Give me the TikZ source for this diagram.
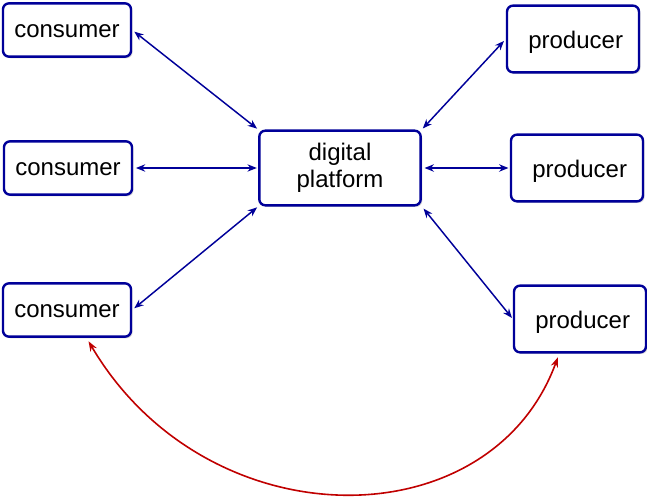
\documentclass[tikz,border=0pt]{standalone}
\usepackage{fontspec}
\setmainfont{Liberation Sans}
\usetikzlibrary{positioning, calc, arrows.meta, shadows}
\definecolor{Navy}{HTML}{000099}
\definecolor{Crimson}{HTML}{C00000}
\tikzset{
    sidebox/.style={rectangle, rounded corners=4.5pt, draw=Navy, line width=1.8pt, fill=white, align=center,
        font=\fontsize{18}{20}\selectfont, drop shadow={opacity=0.3, shadow xshift=1.2pt, shadow yshift=-1.2pt}},
    consumerbox/.style={sidebox, minimum width=96pt, minimum height=40pt, text depth=0pt, text height=11pt},
    producerbox/.style={sidebox, minimum width=99pt, minimum height=50pt, text depth=0pt, text height=14pt},
    platformbox/.style={sidebox, minimum width=121pt, minimum height=56pt},
    link/.style={{Stealth[length=7pt,width=5.5pt]}-{Stealth[length=7pt,width=5.5pt]}, line width=1.1pt, color=Navy, shorten <=2pt, shorten >=1pt},
    deal/.style={{Stealth[length=7.5pt,width=5.5pt]}-{Stealth[length=7.5pt,width=5.5pt]}, line width=1.2pt, color=Crimson, shorten <=3pt, shorten >=3pt},
}
\begin{document}
\begin{tikzpicture}[x=0.75pt, y=-0.75pt]
        \useasboundingbox (0,0) rectangle (647,498);
        \node[platformbox] (plat) at (340,168) {digital\\platform};
        \node[consumerbox] (c1) at (67,30) {consumer};
        \node[consumerbox] (c2) at (68,168) {consumer};
        \node[consumerbox] (c3) at (67,310) {consumer};
        \node[producerbox] (p1) at (573,39) {\hspace{4pt}producer};
        \node[producerbox] (p2) at (577,168) {\hspace{4pt}producer};
        \node[producerbox] (p3) at (580,319) {\hspace{4pt}producer};

        \draw[link] (c1.east) -- (plat.north west);
        \draw[link] (c2.east) -- (plat.west);
        \draw[link] (c3.east) -- (plat.south west);
        \draw[link] (p1.west) -- (plat.north east);
        \draw[link] (plat.east) -- (p2.west);
        \draw[link] (plat.south east) -- (p3.west);
        \draw[deal] (c3.-55) .. controls (207,542) and (490,542) .. (p3.-121);
    \end{tikzpicture}
\end{document}
